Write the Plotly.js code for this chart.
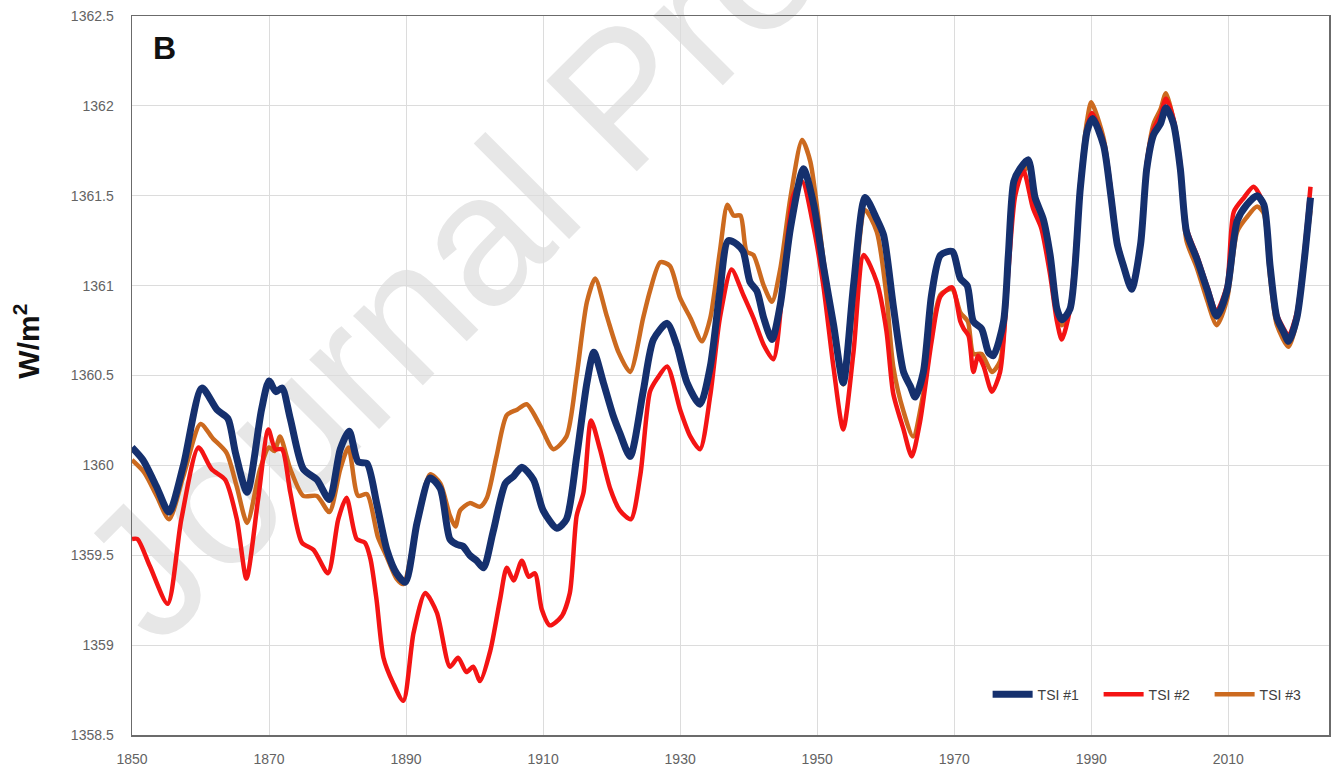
<!DOCTYPE html>
<html>
<head>
<meta charset="utf-8">
<script src="https://cdn.plot.ly/plotly-3.0.1.min.js"></script>
<style>
  html, body { margin: 0; padding: 0; background: #ffffff; }
  #wrap { position: relative; width: 1333px; height: 772px; }
  #wm { position: absolute; left: 0; top: 0; z-index: 0; }
  #chart { position: absolute; left: 0; top: 0; width: 1333px; height: 772px; z-index: 1; }
</style>
</head>
<body>
<div id="wrap">
  <svg id="wm" width="1333" height="772">
    <text x="158" y="650" transform="rotate(-45 158 650)" font-family="Liberation Sans, Arial, sans-serif" font-size="186" fill="#e7e7e7">Journal Pre-proof</text>
  </svg>
  <div id="chart"></div>
</div>
<script>
// ---- data (year, W/m^2) ----
const yearsTSI1 = [1850,1851.6,1853.6,1855.4,1857.5,1860.2,1862.4,1864,1865.1,1866.8,1868.9,1870,1871,1871.9,1873.1,1875,1877,1878.8,1880.4,1881.7,1883,1884.3,1885.7,1887.2,1888.6,1889.9,1891.6,1893.5,1895,1896.4,1897.4,1898.3,1899.3,1900.3,1901.3,1902.7,1904.5,1905.7,1906.9,1908.6,1910,1912,1913.4,1914.9,1916.4,1917.4,1918.8,1920.2,1921.2,1922.7,1924.6,1926.1,1928.1,1929.5,1931,1932.9,1934.4,1935.8,1937,1938.3,1939.2,1940.2,1941.2,1942.2,1943.4,1944.6,1946.1,1948,1949.5,1950.9,1952.4,1953.8,1955.3,1957,1958.7,1959.7,1961.1,1962.6,1963.6,1964.3,1965.5,1966.7,1968,1969.7,1970.9,1971.9,1972.8,1974,1975,1975.7,1977.2,1977.9,1978.7,1979.6,1980.8,1981.8,1983,1984,1985,1985.7,1986.9,1988.4,1989.4,1990.2,1991.8,1992.8,1993.8,1994.7,1995.9,1997.2,1998.1,1999.1,2000.1,2000.9,2002,2003,2003.9,2005.4,2006.9,2008.3,2009.8,2011.3,2012.7,2014.2,2015.2,2016.1,2017.1,2018.1,2018.8,2020,2021,2022];
const tsi1 = [1360.10,1360.03,1359.88,1359.74,1360.00,1360.43,1360.31,1360.26,1360.07,1359.85,1360.31,1360.47,1360.41,1360.43,1360.26,1359.98,1359.92,1359.81,1360.09,1360.19,1360.02,1360.01,1359.79,1359.53,1359.40,1359.35,1359.68,1359.93,1359.87,1359.59,1359.56,1359.55,1359.50,1359.47,1359.43,1359.63,1359.90,1359.94,1359.99,1359.92,1359.75,1359.65,1359.70,1360.05,1360.46,1360.63,1360.46,1360.28,1360.18,1360.05,1360.41,1360.70,1360.79,1360.67,1360.46,1360.34,1360.55,1360.97,1361.25,1361.23,1361.19,1361.02,1360.97,1360.82,1360.70,1360.89,1361.32,1361.65,1361.45,1361.11,1360.78,1360.46,1361.00,1361.49,1361.37,1361.28,1360.89,1360.52,1360.44,1360.38,1360.52,1360.95,1361.17,1361.19,1361.04,1361.00,1360.80,1360.76,1360.63,1360.61,1360.80,1361.17,1361.58,1361.65,1361.70,1361.49,1361.37,1361.17,1360.87,1360.81,1360.87,1361.54,1361.86,1361.93,1361.78,1361.52,1361.23,1361.11,1360.98,1361.23,1361.65,1361.84,1361.90,1361.99,1361.90,1361.65,1361.30,1361.15,1360.98,1360.83,1360.97,1361.36,1361.45,1361.50,1361.45,1361.11,1360.82,1360.74,1360.69,1360.82,1361.11,1361.49];

const yearsTSI2 = [1850,1850.8,1852.6,1855.2,1857.2,1859.7,1861.6,1863.6,1865.3,1866.7,1868.4,1869.9,1870.9,1871.9,1873.1,1874.8,1876.5,1878.6,1880.1,1881.3,1882.8,1884,1884.8,1885.7,1886.7,1888.1,1889.6,1891.1,1892.8,1894.5,1896.4,1897.6,1898.8,1899.8,1900.8,1902.3,1903.7,1904.7,1905.7,1906.9,1907.9,1908.8,1909.8,1911,1912.7,1913.9,1914.9,1915.9,1917,1918.3,1919.8,1921.2,1922.8,1924.2,1925.6,1926.6,1928.1,1930,1931.5,1932.9,1934.4,1935.8,1937.5,1939.2,1940.7,1942.2,1943.6,1945.1,1946.5,1947.8,1949.5,1950.9,1952.4,1953.8,1955.3,1956.8,1958.7,1960.1,1961.1,1962.6,1963.8,1965,1966.7,1968,1969.7,1970.9,1971.4,1972.1,1972.8,1973.5,1974.3,1975.5,1976.7,1977.9,1978.9,1980.1,1981.5,1982.7,1984,1985,1985.7,1986.9,1988.4,1989.4,1990.1,1991.8,1992.8,1993.8,1994.7,1995.9,1997.2,1998.1,1999.1,2000.1,2000.9,2002,2003,2003.9,2005.4,2006.9,2008.3,2009.8,2010.8,2012.3,2013.7,2015.2,2016.1,2017.1,2018.1,2018.8,2020,2021,2022];
const tsi2 = [1359.59,1359.59,1359.44,1359.23,1359.70,1360.10,1359.98,1359.92,1359.70,1359.37,1359.81,1360.20,1360.09,1360.09,1359.85,1359.57,1359.53,1359.40,1359.70,1359.82,1359.59,1359.57,1359.48,1359.25,1358.93,1358.79,1358.69,1359.07,1359.29,1359.18,1358.88,1358.93,1358.85,1358.88,1358.80,1358.97,1359.25,1359.43,1359.36,1359.47,1359.38,1359.40,1359.20,1359.11,1359.16,1359.29,1359.72,1359.85,1360.25,1360.09,1359.87,1359.75,1359.70,1359.95,1360.41,1360.48,1360.55,1360.31,1360.16,1360.09,1360.39,1360.82,1361.09,1360.95,1360.82,1360.67,1360.59,1361.04,1361.50,1361.58,1361.32,1361.00,1360.54,1360.20,1360.63,1361.17,1361.02,1360.75,1360.40,1360.20,1360.05,1360.24,1360.69,1360.94,1360.99,1360.80,1360.76,1360.72,1360.52,1360.61,1360.55,1360.41,1360.52,1361.08,1361.50,1361.64,1361.43,1361.32,1361.06,1360.80,1360.70,1360.87,1361.55,1361.88,1361.96,1361.80,1361.55,1361.25,1361.12,1360.99,1361.25,1361.68,1361.87,1361.95,1362.04,1361.93,1361.68,1361.32,1361.17,1361.00,1360.86,1361.00,1361.41,1361.49,1361.55,1361.45,1361.12,1360.84,1360.76,1360.72,1360.85,1361.15,1361.55];

const yearsTSI3 = [1850,1851.8,1853.6,1855.4,1857.5,1860,1861.8,1863.8,1865.3,1866.8,1868.7,1870,1870.8,1871.6,1873.1,1875,1877,1878.8,1880.4,1881.6,1883,1884.3,1885.9,1887.2,1888.6,1889.6,1891.6,1893.5,1895,1896.4,1897.2,1897.9,1899.3,1900.8,1901.8,1903.2,1904.7,1906.2,1907.6,1909.6,1911.5,1913.4,1914.9,1916.4,1917.6,1919.3,1921,1922.7,1924.6,1925.6,1927.1,1928.5,1930,1931.5,1933.2,1934.4,1935.8,1936.9,1937.8,1938.8,1939.7,1940.7,1942.2,1943.4,1944.6,1946.1,1947.8,1949,1950.9,1952.4,1953.8,1955.3,1957,1958.7,1960.1,1961.1,1962.6,1964,1965.5,1966.7,1968,1969.7,1970.9,1972,1972.8,1974,1975.5,1976.7,1977.9,1978.9,1980.8,1981.8,1983,1984,1985.7,1986.9,1988.4,1989.4,1990,1991.8,1992.8,1993.8,1994.7,1995.9,1997.2,1998.1,1999.1,2000.1,2000.9,2002,2003,2003.9,2005.4,2006.9,2008.3,2009.8,2011.3,2012.7,2014.2,2015.2,2016.1,2017.1,2018.8,2020,2021,2022];
const tsi3 = [1360.03,1359.96,1359.83,1359.70,1359.94,1360.23,1360.15,1360.07,1359.88,1359.68,1359.98,1360.10,1360.08,1360.16,1359.98,1359.83,1359.83,1359.74,1359.98,1360.10,1359.83,1359.84,1359.60,1359.49,1359.37,1359.34,1359.68,1359.95,1359.90,1359.72,1359.66,1359.75,1359.79,1359.77,1359.82,1360.05,1360.28,1360.31,1360.34,1360.22,1360.09,1360.16,1360.50,1360.91,1361.04,1360.83,1360.63,1360.52,1360.82,1360.97,1361.13,1361.11,1360.93,1360.82,1360.69,1360.82,1361.19,1361.45,1361.39,1361.39,1361.19,1361.17,1361.00,1360.91,1361.09,1361.49,1361.81,1361.69,1361.15,1360.75,1360.45,1360.90,1361.42,1361.30,1360.95,1360.55,1360.30,1360.16,1360.40,1360.72,1360.95,1360.98,1360.85,1360.80,1360.62,1360.62,1360.52,1360.58,1361.12,1361.55,1361.66,1361.45,1361.33,1361.10,1360.78,1360.87,1361.58,1361.92,1362.02,1361.82,1361.55,1361.22,1361.10,1360.98,1361.25,1361.68,1361.90,1361.98,1362.07,1361.92,1361.63,1361.25,1361.10,1360.92,1360.78,1360.92,1361.30,1361.38,1361.44,1361.40,1361.05,1360.78,1360.66,1360.80,1361.10,1361.42];

const seriesNames = ['TSI #1', 'TSI #2', 'TSI #3'];
const xTickVals = [1850, 1870, 1890, 1910, 1930, 1950, 1970, 1990, 2010];
const xTickText = ['1850', '1870', '1890', '1910', '1930', '1950', '1970', '1990', '2010'];
const yTickVals = [1358.5, 1359, 1359.5, 1360, 1360.5, 1361, 1361.5, 1362, 1362.5];
const yTickText = ['1358.5', '1359', '1359.5', '1360', '1360.5', '1361', '1361.5', '1362', '1362.5'];

const tickFont = {family: 'Liberation Sans, Arial, sans-serif', size: 14, color: '#636363'};

const traces = [
  {x: yearsTSI3, y: tsi3, name: seriesNames[2], mode: 'lines', legendrank: 3,
   line: {color: '#cc6a1f', width: 4.5, shape: 'spline', smoothing: 0.7}},
  {x: yearsTSI2, y: tsi2, name: seriesNames[1], mode: 'lines', legendrank: 2,
   line: {color: '#f41414', width: 4.5, shape: 'spline', smoothing: 0.7}},
  {x: yearsTSI1, y: tsi1, name: seriesNames[0], mode: 'lines', legendrank: 1,
   line: {color: '#15306e', width: 7, shape: 'spline', smoothing: 0.7}}
];

const layout = {
  width: 1333, height: 772,
  margin: {l: 132, r: 4, t: 16, b: 37},
  paper_bgcolor: 'rgba(0,0,0,0)',
  plot_bgcolor: 'rgba(0,0,0,0)',
  showlegend: true,
  legend: {
    orientation: 'h', x: 0.993, xanchor: 'right', y: 0.056, yanchor: 'middle',
    bgcolor: 'rgba(0,0,0,0)', font: {family: 'Liberation Sans, Arial, sans-serif', size: 14, color: '#404040'},
    entrywidth: 56, entrywidthmode: 'pixels', itemwidth: 40, traceorder: 'normal'
  },
  xaxis: {
    range: [1850, 2024.7], tickvals: xTickVals, ticktext: xTickText,
    showgrid: true, gridcolor: '#dcdcdc', gridwidth: 1,
    showline: true, linecolor: '#6b6b6b', linewidth: 1.5, mirror: true,
    ticks: '', zeroline: false, tickfont: tickFont, ticklabelstandoff: 11
  },
  yaxis: {
    range: [1358.5, 1362.5], tickvals: yTickVals, ticktext: yTickText,
    showgrid: true, gridcolor: '#dcdcdc', gridwidth: 1,
    showline: true, linecolor: '#6b6b6b', linewidth: 1.5, mirror: true,
    ticks: '', zeroline: false, tickfont: tickFont, ticklabelstandoff: 14
  },
  annotations: [
    {text: '<b>B</b>', xref: 'paper', yref: 'paper', x: 0.016, y: 0.955, xanchor: 'left', yanchor: 'middle',
     showarrow: false, font: {family: 'Liberation Sans, Arial, sans-serif', size: 32, color: '#111111'}},
    {text: '<b>W/m<sup>2</sup></b>', xref: 'paper', yref: 'paper', x: -0.088, y: 0.548, xanchor: 'center', yanchor: 'middle',
     textangle: -90, showarrow: false, font: {family: 'Liberation Sans, Arial, sans-serif', size: 30, color: '#111111'}}
  ]
};

Plotly.newPlot('chart', traces, layout, {displayModeBar: false, staticPlot: true});
</script>
</body>
</html>
